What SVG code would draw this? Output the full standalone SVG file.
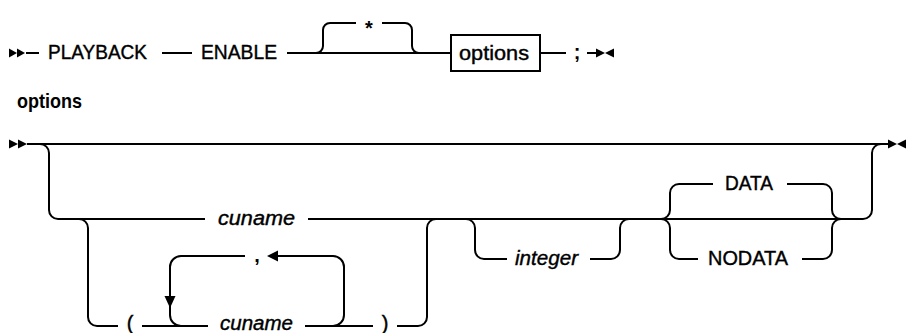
<svg xmlns="http://www.w3.org/2000/svg" width="908" height="333" viewBox="0 0 908 333">
<style>
.ln{fill:none;stroke:#000;stroke-width:2}
.ah{fill:#000;stroke:none}
.t{font-family:"Liberation Sans",Arial,sans-serif;font-size:20px;fill:#000;stroke:#000;stroke-width:0.4}
.i{font-style:italic}
.b{font-weight:bold;stroke-width:0}
.m{text-anchor:middle}
.box{fill:#fff;stroke:#000;stroke-width:2}
</style>
<rect width="908" height="333" fill="#fff"/>
<g id="connectors">
<path class="ln" d="M26,53 H39 M162,53 H192 M287,53 H451 M540,53 H566 M587,53 H596"/>
<path class="ln" d="M316,53 A7,7 0 0 0 323,46 V30 A7,7 0 0 1 330,23 H356 M382,23 H405 A7,7 0 0 1 412,30 V46 A7,7 0 0 0 419,53"/>
<polygon class="ah" points="9,48.5 17,53 9,57.5"/>
<polygon class="ah" points="17,48.5 25,53 17,57.5"/>
<polygon class="ah" points="596,48.5 605,53 596,57.5"/>
<polygon class="ah" points="614,48.5 605,53 614,57.5"/>
<path class="ln" d="M27,144 H888"/>
<polygon class="ah" points="9,139.5 18,144 9,148.5"/>
<polygon class="ah" points="18,139.5 27,144 18,148.5"/>
<polygon class="ah" points="888,139.5 897,144 888,148.5"/>
<polygon class="ah" points="906,139.5 897,144 906,148.5"/>
<path class="ln" d="M40,144 A9,9 0 0 1 49,153 V210 A9,9 0 0 0 58,219 H205 M308,219 H863 A9,9 0 0 0 872,210 V153 A9,9 0 0 1 881,144"/>
<path class="ln" d="M79,219 A9,9 0 0 1 88,228 V317 A9,9 0 0 0 97,326 H118 M142,326 H208 M305,326 H373 M397,326 H418 A9,9 0 0 0 427,317 V228 A9,9 0 0 1 436,219"/>
<path class="ln" d="M245,256 H181 A11,11 0 0 0 170,267 V315 A11,11 0 0 0 181,326 M278,256 H333 A11,11 0 0 1 344,267 V315 A11,11 0 0 1 333,326"/>
<polygon class="ah" points="164.5,296 175.5,296 170,308"/>
<polygon class="ah" points="267,256 278,250.5 278,261.5"/>
<path class="ln" d="M466,219 A9,9 0 0 1 475,228 V250 A9,9 0 0 0 484,259 H507 M590,259 H611 A9,9 0 0 0 620,250 V228 A9,9 0 0 1 629,219"/>
<path class="ln" d="M661,219 A9,9 0 0 0 670,210 V193 A9,9 0 0 1 679,184 H713 M787,184 H823 A9,9 0 0 1 832,193 V210 A9,9 0 0 0 841,219"/>
<path class="ln" d="M661,219 A9,9 0 0 1 670,228 V250 A9,9 0 0 0 679,259 H698 M802,259 H823 A9,9 0 0 0 832,250 V228 A9,9 0 0 1 841,219"/>
</g>
<g id="n-playback"><text class="t" x="48" y="59" textLength="99" lengthAdjust="spacingAndGlyphs">PLAYBACK</text></g>
<g id="n-enable"><text class="t" x="201" y="59" textLength="76" lengthAdjust="spacingAndGlyphs">ENABLE</text></g>
<g id="n-star"><text class="t m b" x="369" y="35">*</text></g>
<g id="n-options-ref"><rect class="box" x="451" y="35" width="89" height="36"/><text class="t" x="459" y="60" textLength="70" lengthAdjust="spacingAndGlyphs">options</text></g>
<g id="n-semicolon"><text class="t m b" x="577" y="59">;</text></g>
<g id="n-options-title"><text class="t b" x="17" y="108" style="font-size:21px" textLength="65" lengthAdjust="spacingAndGlyphs">options</text></g>
<g id="n-cuname1"><text class="t i" x="218" y="225" textLength="77" lengthAdjust="spacingAndGlyphs">cuname</text></g>
<g id="n-lparen"><text class="t m" x="130" y="330">(</text></g>
<g id="n-cuname2"><text class="t i" x="220" y="330" textLength="73" lengthAdjust="spacingAndGlyphs">cuname</text></g>
<g id="n-rparen"><text class="t m" x="385" y="330">)</text></g>
<g id="n-comma"><text class="t m b" x="257" y="262">,</text></g>
<g id="n-integer"><text class="t i" x="515" y="265" textLength="63" lengthAdjust="spacingAndGlyphs">integer</text></g>
<g id="n-data"><text class="t" x="725" y="190" textLength="48" lengthAdjust="spacingAndGlyphs">DATA</text></g>
<g id="n-nodata"><text class="t" x="708" y="265" textLength="80" lengthAdjust="spacingAndGlyphs">NODATA</text></g>
</svg>
